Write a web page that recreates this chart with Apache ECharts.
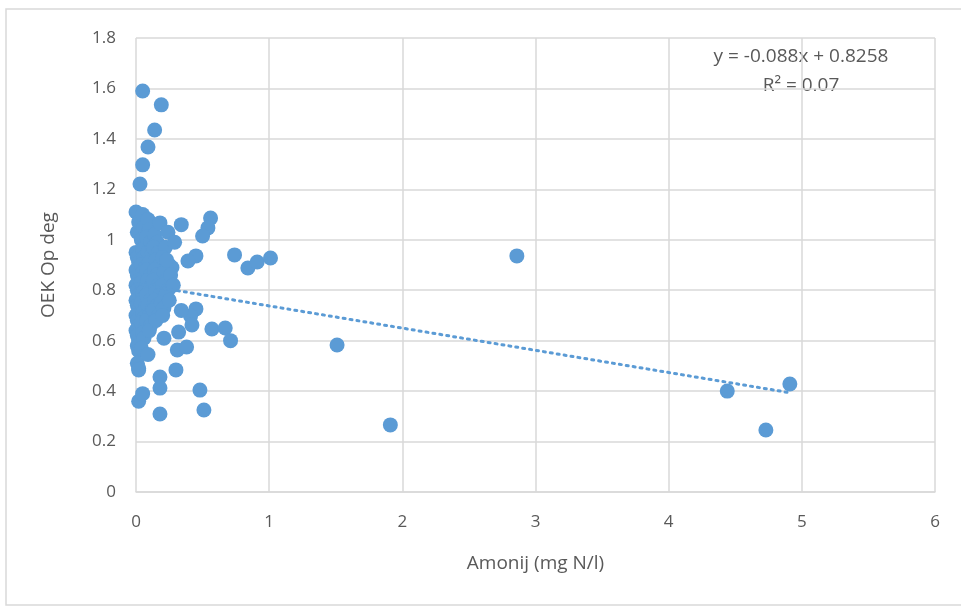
<!DOCTYPE html>
<html>
<head>
<meta charset="utf-8">
<script src="https://cdn.jsdelivr.net/npm/echarts@6/dist/echarts.min.js"></script>
<style>
  html, body { margin: 0; padding: 0; background: #fff; }
  #chart { width: 961px; height: 612px; }
</style>
</head>
<body>
<div id="chart"></div>
<script>
// x = amonij (mg N/l), y = OEK Op deg
const clusterPoints = [
  [0.00, 1.11], [0.01, 1.03], [0.02, 1.07], [0.00, 0.95], [0.01, 0.93], [0.02, 0.91],
  [0.00, 0.88], [0.01, 0.86], [0.02, 0.84], [0.00, 0.82], [0.01, 0.80], [0.02, 0.78],
  [0.00, 0.76], [0.01, 0.74], [0.02, 0.72], [0.00, 0.70], [0.01, 0.68], [0.02, 0.66],
  [0.00, 0.64], [0.01, 0.62], [0.02, 0.60], [0.01, 0.58], [0.02, 0.56], [0.01, 0.51],
  [0.02, 0.49], [0.02, 0.36], [0.02, 0.484],
  [0.05, 1.10], [0.06, 1.05], [0.04, 1.00], [0.07, 0.98], [0.05, 0.96], [0.06, 0.93],
  [0.04, 0.90], [0.07, 0.89], [0.05, 0.87], [0.06, 0.85], [0.04, 0.83], [0.07, 0.81],
  [0.05, 0.79], [0.06, 0.77], [0.04, 0.75], [0.07, 0.73], [0.05, 0.71], [0.06, 0.69],
  [0.04, 0.67], [0.07, 0.65], [0.05, 0.63], [0.06, 0.61], [0.05, 0.39], [0.04, 0.57],
  [0.09, 1.08], [0.10, 1.04], [0.08, 1.01], [0.11, 0.99], [0.09, 0.95], [0.12, 0.94],
  [0.10, 0.91], [0.08, 0.88], [0.11, 0.86], [0.09, 0.84], [0.12, 0.82], [0.10, 0.80],
  [0.08, 0.78], [0.11, 0.76], [0.09, 0.74], [0.12, 0.72], [0.10, 0.70], [0.08, 0.68],
  [0.11, 0.66], [0.09, 0.545], [0.10, 0.64],
  [0.14, 1.02], [0.16, 0.99], [0.13, 0.97], [0.17, 0.95], [0.15, 0.92], [0.18, 0.90],
  [0.14, 0.88], [0.16, 0.86], [0.13, 0.84], [0.17, 0.82], [0.15, 0.80], [0.18, 0.78],
  [0.14, 0.76], [0.16, 0.74], [0.13, 0.72], [0.17, 0.70], [0.15, 0.68], [0.18, 1.067],
  [0.18, 0.456], [0.18, 0.412], [0.18, 0.309],
  [0.24, 1.03], [0.22, 0.97], [0.20, 0.93], [0.25, 0.90], [0.27, 0.89], [0.21, 0.87],
  [0.23, 0.84], [0.20, 0.82], [0.24, 0.80], [0.22, 0.78], [0.19, 0.75], [0.21, 0.73],
  [0.20, 0.70], [0.21, 0.61], [0.26, 0.86], [0.28, 0.82], [0.25, 0.76], [0.23, 0.92]
];

const spreadPoints = [
  [0.34, 1.06], [0.56, 1.086], [0.54, 1.047], [0.50, 1.015], [0.29, 0.99], [0.45, 0.936],
  [0.39, 0.916], [0.74, 0.94], [0.84, 0.888], [0.91, 0.912], [1.01, 0.928], [2.86, 0.936],
  [0.45, 0.726], [0.41, 0.698], [0.42, 0.662], [0.34, 0.72], [0.32, 0.634], [0.31, 0.563],
  [0.38, 0.575], [0.30, 0.484], [0.48, 0.404], [0.51, 0.325], [0.57, 0.646], [0.67, 0.65],
  [0.71, 0.60], [1.51, 0.583], [1.91, 0.266], [4.44, 0.40], [4.91, 0.428], [4.73, 0.246],
  [0.05, 1.59], [0.19, 1.535], [0.14, 1.435], [0.09, 1.368], [0.05, 1.297], [0.03, 1.221]
];

// linear trendline y = -0.088x + 0.8258 over the data range
const trendLine = [[0, 0.8258], [4.91, 0.3937]];
const equationLines = ['y = -0.088x + 0.8258', 'R² = 0.07'];

const FONT = "'Open Sans', 'Liberation Sans', sans-serif";
const BLUE = '#5B9BD5';

const chart = echarts.init(document.getElementById('chart'));

chart.setOption({
  backgroundColor: '#fff',
  animation: false,
  grid: { left: 136, right: 26, top: 38, bottom: 120 },
  xAxis: {
    type: 'value',
    min: 0,
    max: 6,
    interval: 1,
    name: 'Amonij (mg N/l)',
    nameLocation: 'middle',
    nameGap: 62,
    nameTextStyle: { color: '#595959', fontSize: 19, fontFamily: FONT },
    axisLine: { lineStyle: { color: '#D9D9D9', width: 1.5 } },
    axisTick: { show: false },
    axisLabel: { color: '#595959', fontSize: 17, margin: 22, fontFamily: FONT },
    splitLine: { lineStyle: { color: '#D9D9D9', width: 1.5 } }
  },
  yAxis: {
    type: 'value',
    min: 0,
    max: 1.8,
    interval: 0.2,
    name: 'OEK Op deg',
    nameLocation: 'middle',
    nameGap: 78,
    nameTextStyle: { color: '#595959', fontSize: 19, fontFamily: FONT },
    axisLine: { show: false },
    axisTick: { show: false },
    axisLabel: { color: '#595959', fontSize: 17, margin: 20, fontFamily: FONT },
    splitLine: { lineStyle: { color: '#D9D9D9', width: 1.5 } }
  },
  graphic: [
    {
      type: 'rect',
      shape: { x: 6, y: 9, width: 980, height: 596 },
      style: { fill: 'none', stroke: '#D9D9D9', lineWidth: 1.5 },
      silent: true
    },
    {
      type: 'text',
      x: 801,
      y: 57,
      style: {
        text: equationLines[0],
        fill: '#595959',
        font: '19px ' + FONT,
        align: 'center',
        verticalAlign: 'middle'
      }
    },
    {
      type: 'text',
      x: 801,
      y: 86,
      style: {
        text: equationLines[1],
        fill: '#595959',
        font: '19px ' + FONT,
        align: 'center',
        verticalAlign: 'middle'
      }
    }
  ],
  series: [
    {
      type: 'scatter',
      data: clusterPoints.concat(spreadPoints),
      symbolSize: 15,
      itemStyle: { color: BLUE, opacity: 1 },
      z: 2
    },
    {
      type: 'line',
      data: trendLine,
      symbol: 'none',
      lineStyle: { color: BLUE, width: 3, type: [2, 5], cap: 'round' },
      z: 3
    }
  ]
});
</script>
</body>
</html>
